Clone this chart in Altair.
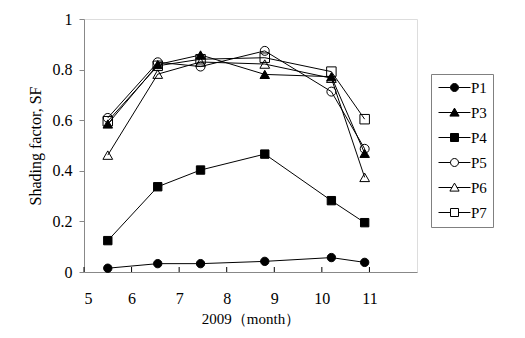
import altair as alt
import pandas as pd

months = [5.5, 6.55, 7.45, 8.8, 10.2, 10.9]
series_names = ["P1", "P3", "P4", "P5", "P6", "P7"]
p1 = [0.015, 0.033, 0.033, 0.042, 0.057, 0.038]
p3 = [0.585, 0.820, 0.858, 0.781, 0.772, 0.469]
p4 = [0.124, 0.337, 0.403, 0.466, 0.282, 0.195]
p5 = [0.609, 0.829, 0.812, 0.874, 0.713, 0.487]
p6 = [0.462, 0.782, 0.830, 0.822, 0.766, 0.374]
p7 = [0.596, 0.815, 0.841, 0.847, 0.792, 0.604]
x_ticks = [5, 6, 7, 8, 9, 10, 11]
y_ticks = [0, 0.2, 0.4, 0.6, 0.8, 1]

rows = []
for name, vals in zip(series_names, [p1, p3, p4, p5, p6, p7]):
    for m, v in zip(months, vals):
        rows.append({"month": m, "sf": v, "series": name})
df = pd.DataFrame(rows)
tick_df = pd.DataFrame({"month": x_ticks})

FONT = "Liberation Serif, Times New Roman, serif"
W, H = 333, 253

shapes = ["circle", "triangle-up", "square", "circle", "triangle-up", "square"]
fills = ["black", "black", "black", "transparent", "transparent", "transparent"]
sizes = [70, 90, 70, 80, 95, 90]

circ = "M-4,0H-1M1,0H4M-1,0A1,1,0,1,0,1,0A1,1,0,1,0,-1,0Z"
tri = "M-4,0H-0.6M0.6,0H4M0,-1.1L1.15,0.9H-1.15Z"
sq = "M-4,0H-1M1,0H4M-1,-1H1V1H-1Z"
path_map = {"circle": circ, "triangle-up": tri, "square": sq}
legend_paths = [path_map[s] for s in shapes]

xscale = alt.Scale(domain=[5, 12], nice=False, zero=False)
yscale = alt.Scale(domain=[0, 1], nice=False)

y_axis = alt.Axis(
    values=y_ticks, format="~g", tickSize=5, labelPadding=7, labelFontSize=16,
    labelFont=FONT, titleFont=FONT,
    title="Shading factor, SF", titleFontSize=16, titleFontWeight="normal",
    titlePadding=9, grid=False,
)
x_axis = alt.Axis(orient="bottom", values=x_ticks, ticks=False, tickSize=0,
                  labelPadding=18, labelFontSize=16, labelFont=FONT, titleFont=FONT,
                  title="2009（month）", titleFontSize=15,
                  titleFontWeight="normal", titlePadding=5, grid=False)

lines = alt.Chart(df).mark_line(color="black", strokeWidth=1).encode(
    x=alt.X("month:Q", scale=xscale, axis=x_axis),
    y=alt.Y("sf:Q", scale=yscale, axis=y_axis),
    detail="series:N",
)

inner_ticks = alt.Chart(tick_df).mark_rule(color="black", strokeWidth=1).encode(
    x=alt.X("month:Q", scale=xscale, axis=x_axis),
    y=alt.value(H),
    y2=alt.value(H - 5),
)

point_layers = []
for name, shp, fl, sz in zip(series_names, shapes, fills, sizes):
    point_layers.append(
        alt.Chart(df).transform_filter(alt.datum.series == name).mark_point(
            shape=shp, fill=fl, stroke="black", strokeWidth=1, opacity=1, size=sz,
            filled=False,
        ).encode(
            x=alt.X("month:Q", scale=xscale, axis=x_axis),
            y=alt.Y("sf:Q", scale=yscale, axis=y_axis),
        )
    )

leg = alt.Legend(
    title=None, orient="none", legendX=347, legendY=55,
    strokeColor="#808080", fillColor="white", padding=6,
    symbolSize=64, symbolOffset=10, labelOffset=9,
    labelFont=FONT, labelFontSize=15, labelColor="black",
    rowPadding=9, symbolStrokeWidth=1, symbolStrokeColor="black",
    symbolOpacity=1,
)

legend_layer = alt.Chart(df).transform_filter("false").mark_point(
    strokeWidth=1, opacity=1, size=64
).encode(
    shape=alt.Shape("series:N",
                    scale=alt.Scale(domain=series_names, range=legend_paths),
                    legend=leg),
    fill=alt.Fill("series:N", scale=alt.Scale(domain=series_names, range=fills),
                  legend=leg),
    stroke=alt.Stroke("series:N",
                      scale=alt.Scale(domain=series_names, range=["black"] * 6),
                      legend=leg),
)

chart = alt.layer(lines, inner_ticks, *point_layers, legend_layer).properties(
    width=W, height=H,
    autosize=alt.AutoSizeParams(type="none"),
    padding={"left": 76, "top": 11, "right": 100, "bottom": 58},
).configure_view(
    stroke="black", strokeWidth=1
).configure_axis(
    labelColor="black", titleColor="black",
    domainColor="black", tickColor="black",
).configure(background="white", font=FONT)

chart.save("out.html", embed_options={"renderer": "svg", "actions": False})
